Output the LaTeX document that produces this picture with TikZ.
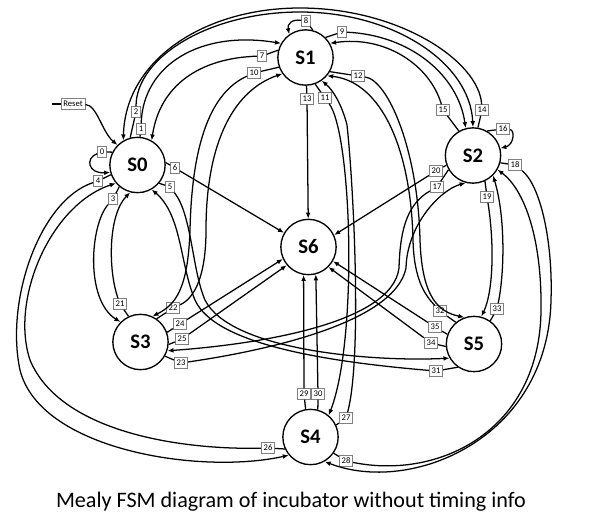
\documentclass[tikz,border=0pt]{standalone}
\usepackage{fontspec}
\setmainfont{Carlito}
\usetikzlibrary{arrows.meta}
\tikzset{
  fsmstate/.style={circle, draw, line width=1pt, minimum size=41.5pt, inner sep=0pt,
    font=\bfseries\fontsize{15.5}{18}\selectfont},
  lbl/.style={draw=gray, fill=white, line width=0.5pt, inner xsep=1.8pt, inner ysep=1pt,
    minimum height=8pt, font=\fontsize{6.5}{7}\selectfont},
  fsmedge/.style={line width=0.95pt, -{Latex[length=4.5pt,width=3.6pt]}},
}
\begin{document}
\begin{tikzpicture}[x=0.75pt, y=-0.75pt]
\useasboundingbox (0,0) rectangle (616,529);
% states
\node[fsmstate] (s0) at (137.5,165) {S0};
\node[fsmstate] (s1) at (305.5,57.5) {S1};
\node[fsmstate] (s2) at (473,155.5) {S2};
\node[fsmstate] (s3) at (140.5,342) {S3};
\node[fsmstate] (s4) at (310.5,437) {S4};
\node[fsmstate] (s5) at (474,344) {S5};
\node[fsmstate] (s6) at (308.5,247) {S6};

% transition labels
\coordinate (rst) at (52,104);
\node[lbl] (reset) at (73,104) {Reset};
\node[lbl] (t0) at (102,152) {0};
\node[lbl] (t1) at (141,129) {1};
\node[lbl] (t2) at (136,112) {2};
\node[lbl] (t3) at (113,199) {3};
\node[lbl] (t4) at (98,181) {4};
\node[lbl] (t5) at (170,187) {5};
\node[lbl] (t6) at (175,168) {6};
\node[lbl] (t7) at (262,56) {7};
\node[lbl] (t8) at (306,21) {8};
\node[lbl] (t9) at (342,32) {9};
\node[lbl] (t10) at (254,73) {10};
\node[lbl] (t11) at (325,98) {11};
\node[lbl] (t12) at (358,76) {12};
\node[lbl] (t13) at (307,99) {13};
\node[lbl] (t14) at (482,110) {14};
\node[lbl] (t15) at (443,110) {15};
\node[lbl] (t16) at (503,129) {16};
\node[lbl] (t17) at (437,187) {17};
\node[lbl] (t18) at (515,165) {18};
\node[lbl] (t19) at (487,197) {19};
\node[lbl] (t20) at (436,171) {20};
\node[lbl] (t21) at (120,304) {21};
\node[lbl] (t22) at (173,308) {22};
\node[lbl] (t23) at (181,363) {23};
\node[lbl] (t24) at (180,324) {24};
\node[lbl] (t25) at (182,339) {25};
\node[lbl] (t26) at (268,448) {26};
\node[lbl] (t27) at (346,418) {27};
\node[lbl] (t28) at (346,461) {28};
\node[lbl] (t29) at (304,394) {29};
\node[lbl] (t30) at (318,394) {30};
\node[lbl] (t31) at (436,371) {31};
\node[lbl] (t32) at (440,311) {32};
\node[lbl] (t33) at (497,309) {33};
\node[lbl] (t34) at (431,343) {34};
\node[lbl] (t35) at (435,327) {35};

% transitions
\draw[line width=0.95pt] (rst) -- (reset);
\draw[fsmedge] (reset) .. controls (97,105) and (102,132) .. (s0.135);
\draw[fsmedge] (s0.153) -- (t0) .. controls (85,158) and (88,174) .. (s0.195);
\draw[fsmedge] (s0.85) -- (t1) .. controls (143,65) and (200,30) .. (s1.150);
\draw[fsmedge] (s0.105) -- (t2) .. controls (136,57) and (210,12) .. (300,12) .. controls (394,12) and (470,63) .. (s2.90);
\draw[fsmedge] (s0.230) -- (t3) .. controls (90,225) and (85,300) .. (s3.135);
\draw[fsmedge] (s0.200) -- (t4) .. controls (40,200) and (5,300) .. (20,370) .. controls (40,450) and (200,475) .. (s4.220);
\draw[fsmedge] (s0.320) -- (t5) .. controls (192,215) and (192,270) .. (205,300) .. controls (230,350) and (370,362) .. (s5.210);
\draw[fsmedge] (s0.5) -- (t6) -- (s6.150);
\draw[fsmedge] (s1.165) -- (t7) .. controls (200,58) and (160,85) .. (s0.60);
\draw[fsmedge] (s1.75) -- (t8) .. controls (292,19) and (287,24) .. (s1.125);
\draw[fsmedge] (s1.45) -- (t9) .. controls (410,35) and (458,75) .. (s2.105);
\draw[fsmedge] (s1.200) -- (t10) .. controls (212,92) and (192,140) .. (190,230) .. controls (188,290) and (175,305) .. (s3.65);
\draw[fsmedge] (s1.290) -- (t11) .. controls (352,135) and (358,340) .. (s4.50);
\draw[fsmedge] (s1.330) -- (t12) .. controls (388,80) and (418,150) .. (420,240) .. controls (422,300) and (440,312) .. (s5.110);
\draw[fsmedge] (s1) -- (t13) -- (s6);
\draw[fsmedge] (s2.80) -- (t14) .. controls (479,61) and (399,8) .. (300,8) .. controls (203,8) and (125,61) .. (s0.120);
\draw[fsmedge] (s2.120) -- (t15) .. controls (430,65) and (385,35) .. (s1.30);
\draw[fsmedge] (s2.60) -- (t16) .. controls (515,130) and (514,145) .. (s2.15);
\draw[fsmedge] (s2.210) -- (t17) .. controls (405,205) and (400,235) .. (399,268) .. controls (392,325) and (250,345) .. (s3.342);
\draw[fsmedge] (s2.345) -- (t18) .. controls (540,185) and (553,240) .. (551,300) .. controls (548,440) and (410,495) .. (s4.300);
\draw[fsmedge] (s2.295) -- (t19) .. controls (494,240) and (494,290) .. (s5.75);
\draw[fsmedge] (s2.200) -- (t20) -- (s6.25);
\draw[fsmedge] (s3.115) -- (t21) .. controls (108,270) and (108,215) .. (s0.255);
\draw[fsmedge] (s3.55) -- (t22) .. controls (195,298) and (206,275) .. (206,230) .. controls (206,140) and (235,90) .. (s1.215);
\draw[fsmedge] (s3.330) -- (t23) .. controls (270,350) and (395,322) .. (406,268) .. controls (407,225) and (440,190) .. (s2.255);
\draw[fsmedge] (s3.20) -- (t24) -- (s6.205);
\draw[fsmedge] (s3.355) -- (t25) -- (s6.220);
\draw[fsmedge] (s4.205) -- (t26) .. controls (180,450) and (60,432) .. (30,360) .. controls (10,300) and (50,205) .. (s0.220);
\draw[fsmedge] (s4.25) -- (t27) .. controls (362,360) and (354,190) .. (347,125) .. controls (342,105) and (333,90) .. (s1.305);
\draw[fsmedge] (s4.325) -- (t28) .. controls (440,480) and (540,430) .. (541,310) .. controls (542,240) and (525,190) .. (s2.330);
\draw[fsmedge] (s4.100) -- (t29) -- (s6.260);
\draw[fsmedge] (s4.75) -- (t30) -- (s6.285);
\draw[fsmedge] (s5.235) -- (t31) .. controls (330,362) and (215,345) .. (195,300) .. controls (180,265) and (182,215) .. (s0.300);
\draw[fsmedge] (s5.130) -- (t32) .. controls (425,295) and (414,280) .. (413,240) .. controls (411,150) and (382,82) .. (s1.320);
\draw[fsmedge] (s5.55) -- (t33) .. controls (505,270) and (505,215) .. (s2.315);
\draw[fsmedge] (s5.185) -- (t34) -- (s6.315);
\draw[fsmedge] (s5.160) -- (t35) -- (s6.330);

% caption
\node[anchor=base, font=\fontsize{16.6}{20}\selectfont] (caption) at (291,507) {Mealy FSM diagram of incubator without timing info};
\end{tikzpicture}
\end{document}
